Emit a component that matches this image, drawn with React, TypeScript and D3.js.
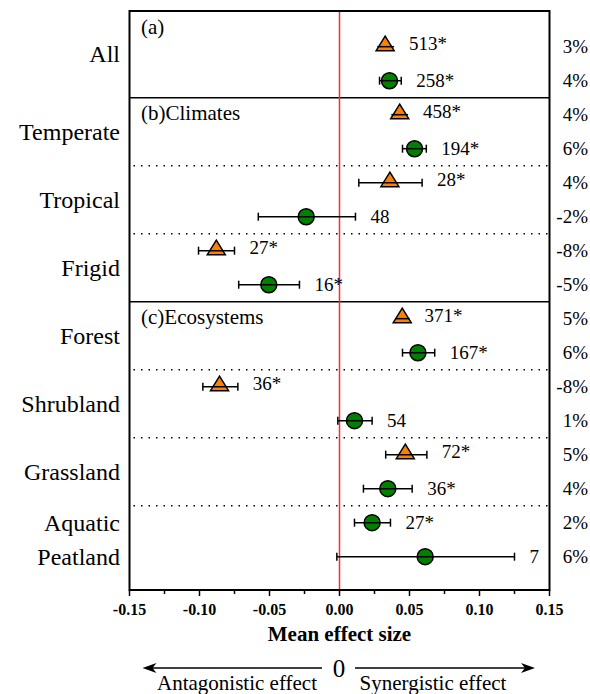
import * as d3 from "d3";

// one entry per plotted point, top to bottom
const pointCategory = [
  "All", "All", "Temperate", "Temperate", "Tropical", "Tropical", "Frigid", "Frigid",
  "Forest", "Forest", "Shrubland", "Shrubland", "Grassland", "Grassland", "Aquatic", "Peatland",
];
const pointShape = [
  "tri", "circ", "tri", "circ", "tri", "circ", "tri", "circ",
  "tri", "circ", "tri", "circ", "tri", "circ", "circ", "circ",
];
const meanEffect = [
  0.0326, 0.0357, 0.043, 0.0536, 0.036, -0.0238, -0.088, -0.0505,
  0.0448, 0.056, -0.0857, 0.0107, 0.047, 0.0345, 0.0233, 0.0612,
];
const ciLow = [
  0.027, 0.0286, 0.037, 0.045, 0.0138, -0.058, -0.1007, -0.072,
  0.04, 0.045, -0.0976, -0.0012, 0.033, 0.0171, 0.0107, -0.0019,
];
const ciHigh = [
  0.039, 0.0441, 0.049, 0.062, 0.059, 0.0114, -0.075, -0.0286,
  0.05, 0.068, -0.0726, 0.0233, 0.0624, 0.0519, 0.0364, 0.125,
];
const sampleLabels = [
  "513*", "258*", "458*", "194*", "28*", "48", "27*", "16*",
  "371*", "167*", "36*", "54", "72*", "36*", "27*", "7",
];
const percentLabels = [
  "3%", "4%", "4%", "6%", "4%", "-2%", "-8%", "-5%",
  "5%", "6%", "-8%", "1%", "5%", "4%", "2%", "6%",
];

const categories = ["All", "Temperate", "Tropical", "Frigid", "Forest", "Shrubland", "Grassland", "Aquatic", "Peatland"];
const sectionTitles = ["(a)", "(b)Climates", "(c)Ecosystems"];
const sectionStarts = ["All", "Temperate", "Forest"];
const dottedAfter = ["Temperate", "Tropical", "Forest", "Shrubland", "Grassland"];
const xTicks = [-0.15, -0.1, -0.05, 0, 0.05, 0.1, 0.15];

const W = 590;
const H = 694;
const FONT = "'Liberation Serif', 'Times New Roman', serif";

export default function App() {
  const x = d3.scaleLinear().domain([-0.15, 0.15]).range([129.5, 549.5]);
  const y = d3.scaleLinear().domain([-1.05, 15.98]).range([11, 590]);
  const [top, bottom] = y.domain();
  const minorTicks = d3.range(-0.15, 0.1501, 0.025);

  const rowsOf = (c: string) =>
    pointCategory.map((p, i) => (p === c ? i : -1)).filter((i) => i >= 0);
  const firstRow = (c: string) => d3.min(rowsOf(c)) as number;
  const lastRow = (c: string) => d3.max(rowsOf(c)) as number;

  const sectionEdges = sectionStarts.map((c) => (firstRow(c) === 0 ? top : firstRow(c) - 0.5));

  // first label sits in the middle of panel (a), the rest between their dividers
  const labelRow = (c: string, k: number) =>
    k === 0 ? (top + lastRow(c) + 0.5) / 2 : (firstRow(c) + lastRow(c)) / 2;

  const tri = (cx: number, cy: number) =>
    `M${cx},${cy - 10.5}L${cx + 9},${cy + 4}L${cx - 9},${cy + 4}Z`;

  const arrowY = 668;
  const head = (tip: number, dir: number) =>
    `M${tip},${arrowY}L${tip + dir * 14},${arrowY - 5}L${tip + dir * 10},${arrowY}L${tip + dir * 14},${arrowY + 5}Z`;

  const cap = (xv: number, cy: number, k: string) => (
    <line key={k} x1={xv} x2={xv} y1={cy - 4} y2={cy + 4} stroke="#000" strokeWidth={1.5} />
  );

  return (
    <svg
      width={W}
      height={H}
      style={{ position: "absolute", left: 0, top: 0, background: "#fff" }}
      fontFamily={FONT}
    >
      {/* section dividers */}
      {sectionEdges.slice(1).map((e, i) => (
        <line key={"s" + i} x1={x(-0.15)} x2={x(0.15)} y1={y(e)} y2={y(e)} stroke="#000" strokeWidth={1.5} />
      ))}
      {dottedAfter.map((c) => (
        <line
          key={"d" + c}
          x1={x(-0.15) + 4}
          x2={x(0.15)}
          y1={y(lastRow(c) + 0.5)}
          y2={y(lastRow(c) + 0.5)}
          stroke="#000"
          strokeWidth={1.5}
          strokeDasharray="1.5,6"
        />
      ))}

      {/* zero line */}
      <line x1={x(0)} x2={x(0)} y1={y(top)} y2={y(bottom)} stroke="#ff2a2a" strokeWidth={1.5} />

      {/* frame */}
      <path
        d={`M${x(-0.15)},${y(bottom)}V${y(top)}H${x(0.15)}V${y(bottom)}Z`}
        fill="none"
        stroke="#000"
        strokeWidth={2}
      />

      {/* x axis ticks */}
      {minorTicks.map((t, i) => (
        <line
          key={"t" + i}
          x1={x(t)}
          x2={x(t)}
          y1={y(bottom)}
          y2={y(bottom) + (i % 2 === 0 ? 6 : 4)}
          stroke="#000"
          strokeWidth={1.5}
        />
      ))}
      {xTicks.map((t) => (
        <text key={"l" + t} x={x(t)} y={615} textAnchor="middle" fontSize={16} fontWeight="bold">
          {t.toFixed(2)}
        </text>
      ))}
      <text x={x(0)} y={641} textAnchor="middle" fontSize={21} fontWeight="bold">
        Mean effect size
      </text>

      {/* section titles */}
      {sectionTitles.map((s, i) => (
        <text key={s} x={141} y={y(sectionEdges[i]) + 22.5} fontSize={21}>
          {s}
        </text>
      ))}

      {/* category labels */}
      {categories.map((c, k) => (
        <text key={c} x={120} y={y(labelRow(c, k))} textAnchor="end" dominantBaseline="central" fontSize={24}>
          {c}
        </text>
      ))}

      {/* points */}
      {meanEffect.map((m, i) => {
        const cy = y(i);
        const isTri = pointShape[i] === "tri";
        const withCaps = !isTri || ciHigh[i] - ciLow[i] > 0.015;
        return (
          <g key={"p" + i}>
            {isTri ? (
              <path d={tri(x(m), cy)} fill="#ff8000" stroke="#000" strokeWidth={1.5} />
            ) : (
              <circle cx={x(m)} cy={cy} r={8} fill="#008000" stroke="#000" strokeWidth={1.5} />
            )}
            <line x1={x(ciLow[i])} x2={x(ciHigh[i])} y1={cy} y2={cy} stroke="#000" strokeWidth={1.5} />
            {withCaps && cap(x(ciLow[i]), cy, "a")}
            {withCaps && cap(x(ciHigh[i]), cy, "b")}
            <text x={x(ciHigh[i]) + 15} y={isTri ? cy - 3 : cy} dominantBaseline="central" fontSize={19}>
              {sampleLabels[i]}
            </text>
            <text x={588} y={cy} textAnchor="end" dominantBaseline="central" fontSize={19}>
              {percentLabels[i]}
            </text>
          </g>
        );
      })}

      {/* effect direction arrows */}
      <line x1={322} x2={150} y1={arrowY} y2={arrowY} stroke="#000" strokeWidth={1.5} />
      <path d={head(142.5, 1)} fill="#000" />
      <line x1={355} x2={527} y1={arrowY} y2={arrowY} stroke="#000" strokeWidth={1.5} />
      <path d={head(535, -1)} fill="#000" />
      <text x={339} y={arrowY} textAnchor="middle" dominantBaseline="central" fontSize={25}>
        0
      </text>
      <text x={237} y={690} textAnchor="middle" fontSize={21}>
        Antagonistic effect
      </text>
      <text x={433} y={690} textAnchor="middle" fontSize={21}>
        Synergistic effect
      </text>
    </svg>
  );
}
